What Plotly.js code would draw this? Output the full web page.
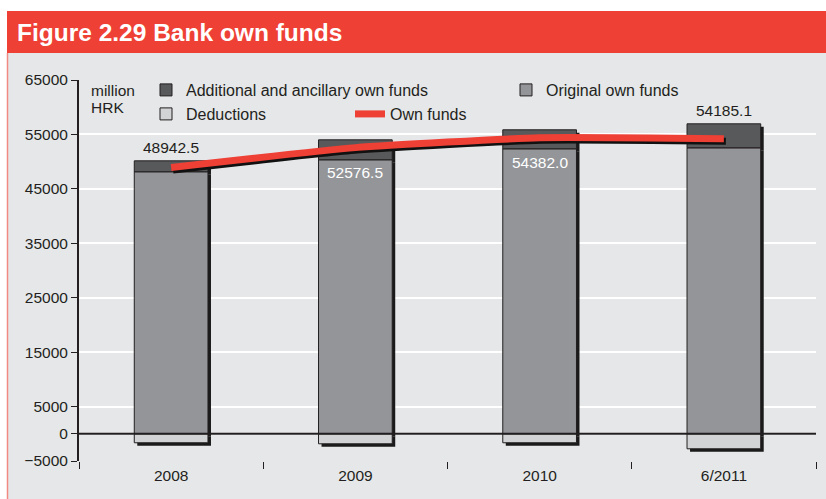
<!DOCTYPE html>
<html>
<head>
<meta charset="utf-8">
<script src="https://cdn.plot.ly/plotly-3.0.1.min.js"></script>
<style>
html,body{margin:0;padding:0;background:#fff;}
#chart{width:826px;height:499px;}
</style>
</head>
<body>
<div id="chart"></div>
<script>
// ---- data ----
const categories = ['2008', '2009', '2010', '6/2011'];
const originalOwnFunds = [48140, 50340, 52360, 52540];
const additionalOwnFunds = [2010, 3670, 3490, 4410];
const deductions = [-1650, -1840, -1650, -2760];
const ownFunds = [48942.5, 52576.5, 54382.0, 54185.1];
const ownFundsLabels = ['48942.5', '52576.5', '54382.0', '54185.1'];
const labelPlacement = ['above', 'inside', 'inside', 'above'];
const yTickVals = [-5000, 0, 5000, 15000, 25000, 35000, 45000, 55000, 65000];

// ---- geometry helpers ----
const W = 826, H = 499;
const M = {l: 79, r: 10, t: 80, b: 38};
const pw = W - M.l - M.r, ph = H - M.t - M.b;
const fx = px => (px - M.l) / pw;
const fy = py => (H - M.b - py) / ph;
const yRange = [-5000, 65000];
const xRange = [-0.5, 3.5];
const xPerPx = (xRange[1] - xRange[0]) / pw;
const yPerPx = (yRange[1] - yRange[0]) / ph;
const shiftAxes = (px, py) => ({
  x: [xRange[0] - px * xPerPx, xRange[1] - px * xPerPx],
  y: [yRange[0] + py * yPerPx, yRange[1] + py * yPerPx]
});
const barShadow = shiftAxes(3, 3);
const lineShadow = shiftAxes(2, 2.5);

const C = {
  add: '#58595b', orig: '#939598', ded: '#d1d3d4', red: '#ee4035',
  ink: '#231f20', bg: '#e6e7e9'
};
const FONT = 'Liberation Sans, Arial, Helvetica, sans-serif';

// ---- traces ----
const traces = [];
// bar shadows (subplot xy, shifted)
[originalOwnFunds, additionalOwnFunds, deductions].forEach(vals => {
  traces.push({type: 'bar', x: categories, y: vals, xaxis: 'x', yaxis: 'y',
    marker: {color: '#1a1a1a', line: {width: 0}}, showlegend: false, hoverinfo: 'skip'});
});
// main bars (subplot x2y2)
traces.push({type: 'bar', name: 'Original own funds', x: categories, y: originalOwnFunds,
  xaxis: 'x2', yaxis: 'y2', marker: {color: C.orig, line: {color: C.ink, width: 1}}, legend: 'legend3'});
traces.push({type: 'bar', name: 'Additional and ancillary own funds', x: categories, y: additionalOwnFunds,
  xaxis: 'x2', yaxis: 'y2', marker: {color: C.add, line: {color: C.ink, width: 1}}, legend: 'legend'});
traces.push({type: 'bar', name: 'Deductions', x: categories, y: deductions,
  xaxis: 'x2', yaxis: 'y2', marker: {color: C.ded, line: {color: C.ink, width: 1}}, legend: 'legend2'});
// line shadow (x3y3)
traces.push({type: 'scatter', mode: 'lines', x: categories, y: ownFunds, xaxis: 'x3', yaxis: 'y3',
  line: {color: '#111', width: 7, shape: 'spline', smoothing: 0.5}, showlegend: false, hoverinfo: 'skip'});
// main line (x4y4)
traces.push({type: 'scatter', mode: 'lines', name: 'Own funds', x: categories, y: ownFunds, xaxis: 'x4', yaxis: 'y4',
  line: {color: C.red, width: 7, shape: 'spline', smoothing: 0.5}, legend: 'legend4'});

// ---- layout ----
const hiddenX = (range, overlay, anchor) => Object.assign({type: 'category', range: range, fixedrange: true,
  showgrid: false, zeroline: false, showline: false, showticklabels: false, ticks: ''},
  overlay ? {overlaying: overlay} : {}, anchor ? {anchor: anchor} : {});
const hiddenY = (range, overlay, anchor) => Object.assign({type: 'linear', range: range, fixedrange: true,
  showgrid: false, zeroline: false, showline: false, showticklabels: false, ticks: ''},
  overlay ? {overlaying: overlay} : {}, anchor ? {anchor: anchor} : {});

const legendBase = (px, py) => ({
  x: fx(px), y: fy(py), xanchor: 'left', yanchor: 'middle',
  bgcolor: 'rgba(0,0,0,0)', borderwidth: 0,
  font: {family: FONT, size: 16, color: C.ink}
});

const annotations = [
  {xref: 'paper', yref: 'paper', x: fx(15), y: fy(32), xanchor: 'left', yanchor: 'middle',
   text: '<b>Figure 2.29 Bank own funds</b>', showarrow: false,
   font: {family: FONT, size: 24.5, color: '#ffffff'}},
  {xref: 'paper', yref: 'paper', x: fx(89), y: fy(90), xanchor: 'left', yanchor: 'middle',
   text: 'million', showarrow: false, font: {family: FONT, size: 15.5, color: C.ink}},
  {xref: 'paper', yref: 'paper', x: fx(89), y: fy(107), xanchor: 'left', yanchor: 'middle',
   text: 'HRK', showarrow: false, font: {family: FONT, size: 15.5, color: C.ink}}
];
categories.forEach((c, i) => {
  const above = labelPlacement[i] === 'above';
  const barTop = originalOwnFunds[i] + additionalOwnFunds[i];
  annotations.push({xref: 'x4', yref: 'y4', x: i, y: above ? barTop : ownFunds[i], text: ownFundsLabels[i],
    showarrow: false, yanchor: 'middle', yshift: above ? 13 : -25,
    font: {family: FONT, size: 15.5, color: above ? C.ink : '#ffffff'}});
});

const layout = {
  width: W, height: H,
  margin: M,
  paper_bgcolor: '#ffffff',
  plot_bgcolor: 'rgba(0,0,0,0)',
  barmode: 'relative',
  bargap: 0.6,
  showlegend: true,
  font: {family: FONT, size: 15.5, color: C.ink},
  xaxis: hiddenX(barShadow.x, null, 'y'),
  yaxis: hiddenY(barShadow.y, null, 'x'),
  xaxis2: {overlaying: 'x', anchor: 'y2', type: 'category', range: xRange, fixedrange: true,
    showgrid: false, zeroline: false, showline: false,
    ticks: 'outside', tickson: 'boundaries', ticklen: 7, tickwidth: 1, tickcolor: C.ink,
    ticklabelstandoff: 3,
    tickfont: {family: FONT, size: 15.5, color: C.ink}},
  yaxis2: {overlaying: 'y', anchor: 'x2', type: 'linear', range: yRange, fixedrange: true,
    tickvals: yTickVals, tickformat: 'd',
    showgrid: true, gridcolor: '#ffffff', gridwidth: 2,
    zeroline: false, showline: true, linecolor: C.ink, linewidth: 2,
    ticks: 'outside', ticklen: 6, tickwidth: 1, tickcolor: C.ink,
    tickfont: {family: FONT, size: 15.5, color: C.ink}},
  xaxis3: hiddenX(lineShadow.x, 'x', 'y3'),
  yaxis3: hiddenY(lineShadow.y, 'y', 'x3'),
  xaxis4: hiddenX(xRange, 'x', 'y4'),
  yaxis4: hiddenY(yRange, 'y', 'x4'),
  legend: legendBase(146, 90),
  legend2: legendBase(146, 114),
  legend3: legendBase(506, 90),
  legend4: legendBase(350, 114),
  shapes: [
    {type: 'rect', xref: 'paper', yref: 'paper', x0: fx(8), x1: fx(W), y0: fy(H), y1: fy(53),
     fillcolor: C.bg, line: {width: 0}, layer: 'below'},
    {type: 'line', xref: 'paper', yref: 'paper', x0: fx(7.5), x1: fx(7.5), y0: fy(H), y1: fy(53),
     line: {color: '#f08a82', width: 1.5}, layer: 'below'},
    {type: 'rect', xref: 'paper', yref: 'paper', x0: fx(7), x1: fx(W), y0: fy(53), y1: fy(11),
     fillcolor: C.red, line: {width: 0}, layer: 'below'},
    {type: 'line', xref: 'paper', yref: 'y2', x0: 0, x1: 1, y0: 0, y1: 0,
     line: {color: C.ink, width: 2}, layer: 'above'}
  ],
  annotations: annotations,
  hovermode: false
};

Plotly.newPlot('chart', traces, layout, {displayModeBar: false, staticPlot: true});
</script>
</body>
</html>
